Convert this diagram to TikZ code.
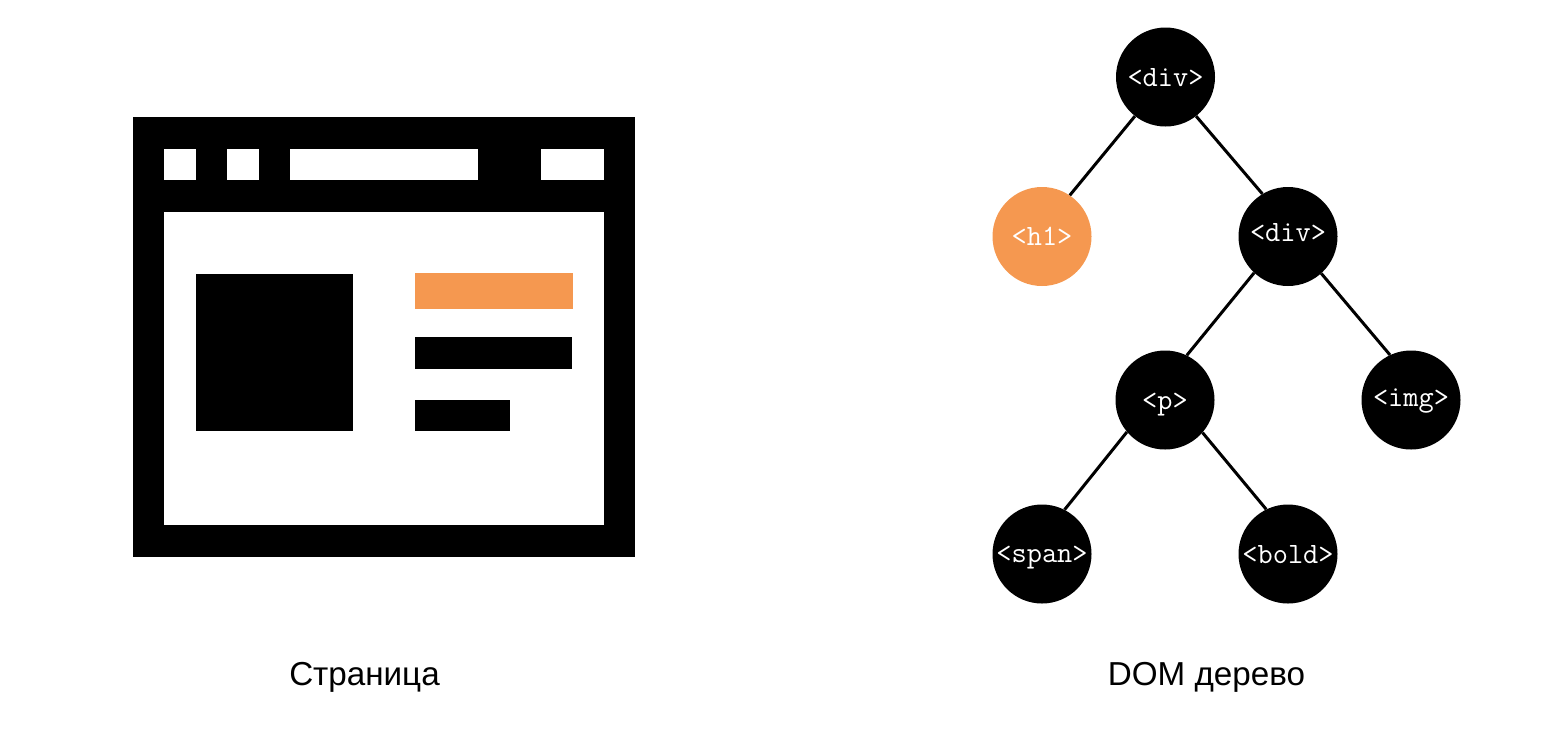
\documentclass[tikz,border=0pt]{standalone}
\usepackage{fontspec}
\setmainfont{Liberation Sans}
\definecolor{accent}{HTML}{F59850}
\tikzset{
  x=1pt,y=-1pt,
  dotnode/.style={circle,fill=black,minimum size=99pt,inner sep=0pt,text=white,text height=20pt,text depth=2pt,font=\fontsize{29.5}{29.5}\selectfont\ttfamily},
  hl/.style={dotnode,fill=accent},
  link/.style={line width=3pt,black},
  captext/.style={font=\fontsize{33.2}{33.2}\selectfont,text=black}
}
\begin{document}
\begin{tikzpicture}
\useasboundingbox (0,0) rectangle (1554,732);
\fill[black] (133,117) rectangle (635,557);
\fill[white] (164,211.5) rectangle (604,525);
\fill[white] (164,148.5) rectangle (196,180);
\fill[white] (227,148.5) rectangle (259,180);
\fill[white] (290,148.5) rectangle (478,180);
\fill[white] (541,148.5) rectangle (604,180);
\fill[black] (196,274) rectangle (353,431);
\fill[accent] (415,273) rectangle (573,309);
\fill[black] (415,337) rectangle (572,368.5);
\fill[black] (415,399.5) rectangle (510,431);
\node[dotnode] (a) at (1165.5,77) {<div>};
\node[hl] (b) at (1042,236.5) {<h1>};
\node[dotnode,text height=12pt] (c) at (1288,236.5) {<div>};
\node[dotnode,text height=21pt] (d) at (1165,400) {<p>};
\node[dotnode,text height=15pt] (e) at (1411,400) {<img>};
\node[dotnode,text height=18pt] (f) at (1042,554) {<span>};
\node[dotnode] (g) at (1288,554) {<bold>};
\draw[link] (a.232.9) -- (b.56);
\draw[link] (a.308.7) -- (c.121.5);
\draw[link] (c.227.1) -- (d.64.5);
\draw[link] (c.312) -- (e.115.5);
\draw[link] (d.220.9) -- (f.63.4);
\draw[link] (d.319.1) -- (g.116.6);
\node[captext] (p) at (364.5,677) {Страница};
\node[captext] (q) at (1206.5,677) {DOM дерево};
\end{tikzpicture}
\end{document}
